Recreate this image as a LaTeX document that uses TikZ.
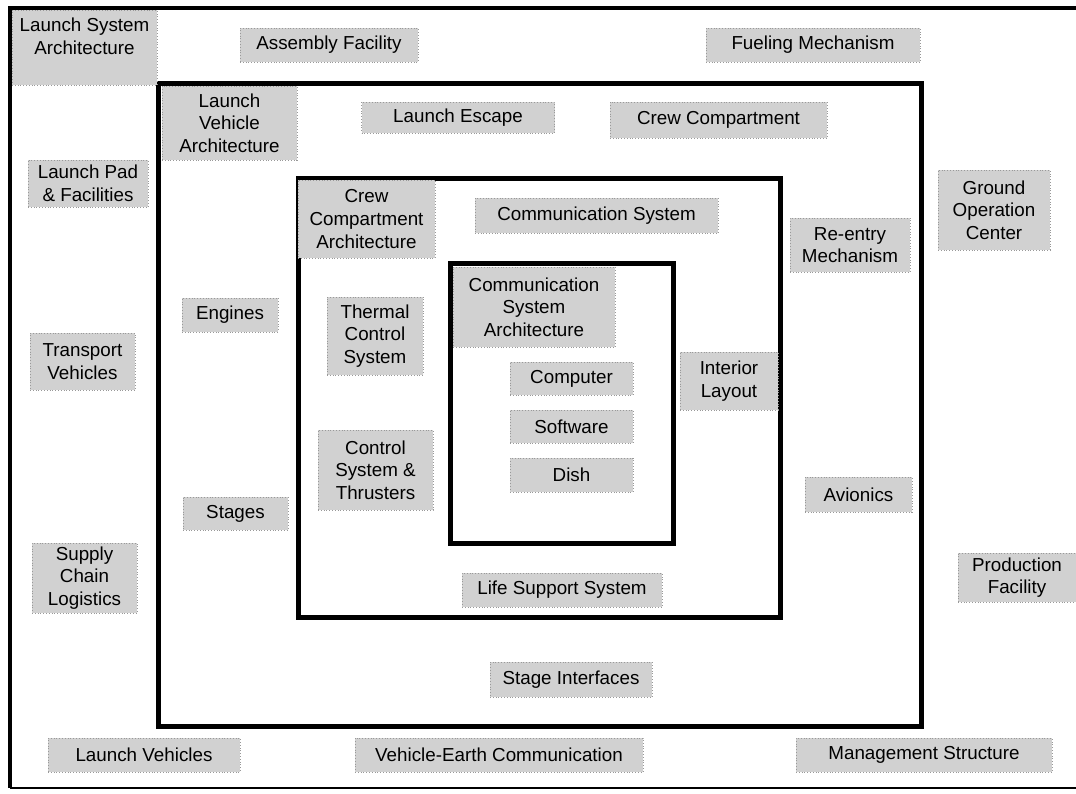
\documentclass[tikz,border=0pt]{standalone}
\usepackage{fontspec}
\setmainfont{Liberation Sans}
\tikzset{
    part/.style={fill=black!18, draw=black!40, densely dotted, inner sep=0pt, align=center, font=\fontsize{9.4}{11.3}\selectfont},
    dims/.style 2 args={minimum width=#1*0.5pt, minimum height=#2*0.5pt},
    rim/.style={line width=2.5pt}
}
\begin{document}
\begin{tikzpicture}[x=0.5pt, y=-0.5pt]
        \useasboundingbox (0,0) rectangle (1076,793);

        % launch system (open to the right)
        \draw[line width=2pt] (1076,8) -- (10,8) -- (10,788);
        \draw[line width=1pt] (10,788) -- (1076,788);
        % launch vehicle
        \draw[rim] (158,83) rectangle (921,726);
        % crew compartment
        \draw[rim] (298,178) rectangle (780,617);
        % communication system
        \draw[rim] (450,263) rectangle (673,543);

        % outer ring
        \node (lsa)        at (84.5,47.5) [part, dims={145}{75}] {Launch System\\Architecture\\\mbox{}};
        \node (assembly)   at (329,45)    [part, dims={178}{34}] {Assembly Facility};
        \node (fueling)    at (813,45)    [part, dims={214}{34}] {Fueling Mechanism};
        \node (launchpad)  at (88,183.5)  [part, dims={120}{47}] {Launch Pad\\\& Facilities};
        \node (ground)     at (994,210)   [part, dims={112}{80}] {Ground\\Operation\\Center};
        \node (transport)  at (82.5,361.5)[part, dims={105}{57}] {Transport\\Vehicles};
        \node (supply)     at (84.5,578)  [part, dims={105}{70}] {Supply\\Chain\\Logistics};
        \node (production) at (1017,577.5)[part, dims={118}{49}] {Production\\Facility};
        \node (lvehicles)  at (144,755)   [part, dims={192}{34}] {Launch Vehicles};
        \node (vec)        at (499,755)   [part, dims={288}{34}] {Vehicle-Earth Communication};
        \node (mgmt)       at (924,755)   [part, dims={256}{34}] {Management Structure};

        % launch vehicle ring
        \node (lva)        at (229.5,123) [part, dims={135}{74}] {Launch\\Vehicle\\Architecture};
        \node (escape)     at (458,117.5) [part, dims={193}{31}] {Launch Escape};
        \node (crewcomp)   at (718.5,120) [part, dims={217}{36}] {Crew Compartment};
        \node (reentry)    at (850,245)   [part, dims={120}{54}] {Re-entry\\Mechanism};
        \node (engines)    at (230,315)   [part, dims={96}{34}]  {Engines};
        \node (stages)     at (235.5,513.5)[part, dims={105}{33}] {Stages};
        \node (avionics)   at (858.5,494.5)[part, dims={107}{35}] {Avionics};
        \node (stageint)   at (571,679.5) [part, dims={162}{35}] {Stage Interfaces};

        % crew compartment ring
        \node (cca)        at (366.5,219) [part, dims={137}{78}] {Crew\\Compartment\\Architecture};
        \node (commsys)    at (596.5,215.5)[part, dims={243}{35}] {Communication System};
        \node (thermal)    at (375,336)   [part, dims={96}{78}]  {Thermal\\Control\\System};
        \node (control)    at (375.5,470) [part, dims={115}{80}] {Control\\System \&\\Thrusters};
        \node (interior)   at (729,381)   [part, dims={98}{58}]  {Interior\\Layout};
        \node (life)       at (562,590)   [part, dims={200}{34}] {Life Support System};

        % communication system core
        \node (csa)        at (534,307)   [part, dims={162}{80}] {Communication\\System\\Architecture};
        \node (computer)   at (571.5,378.5)[part, dims={123}{33}] {Computer};
        \node (software)   at (571.5,426.5)[part, dims={123}{33}] {Software};
        \node (dish)       at (571.5,475) [part, dims={123}{34}] {Dish};
    \end{tikzpicture}
\end{document}
